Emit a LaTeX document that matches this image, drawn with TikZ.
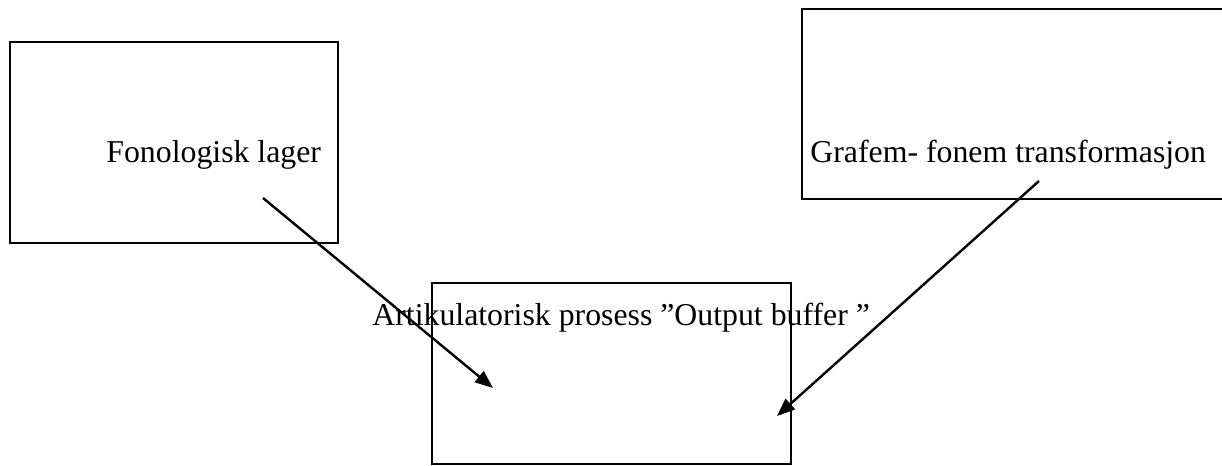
\documentclass[tikz,border=0pt]{standalone}
\usepackage{fontspec}
\setmainfont{Liberation Serif}
\usetikzlibrary{arrows.meta}
\begin{document}
\begin{tikzpicture}[x=0.5pt,y=-0.5pt,
  box/.style={draw, line width=0.8pt, inner sep=0pt, outer sep=0pt, anchor=north west},
  lbl/.style={anchor=base west, inner sep=0pt, font=\fontsize{15.9}{19}\selectfont},
  conn/.style={line width=1.2pt, -{Triangle[length=9pt,width=7pt]}}]
\useasboundingbox (0,0) rectangle (1222,466);
\begin{scope}
\clip (0,0) rectangle (1222,466);
\node[box, minimum width=164pt, minimum height=100.5pt] (fon) at (10,42) {};
\node[box, minimum width=212pt, minimum height=95pt] (graf) at (802,9) {};
\node[box, minimum width=179.5pt, minimum height=90.5pt] (art) at (432,283) {};
\end{scope}
\node[lbl] (tfon) at (106,162) {Fonologisk lager};
\node[lbl] (tgraf) at (810,162) {Grafem- fonem transformasjon};
\node[lbl] (tart) at (372,325) {Artikulatorisk prosess ”Output buffer ”};
\coordinate (a1) at (263,198);
\coordinate (a2) at (493,388);
\coordinate (b1) at (1039,181);
\coordinate (b2) at (777,416);
\draw[conn] (a1) -- (a2);
\draw[conn] (b1) -- (b2);
\end{tikzpicture}
\end{document}
